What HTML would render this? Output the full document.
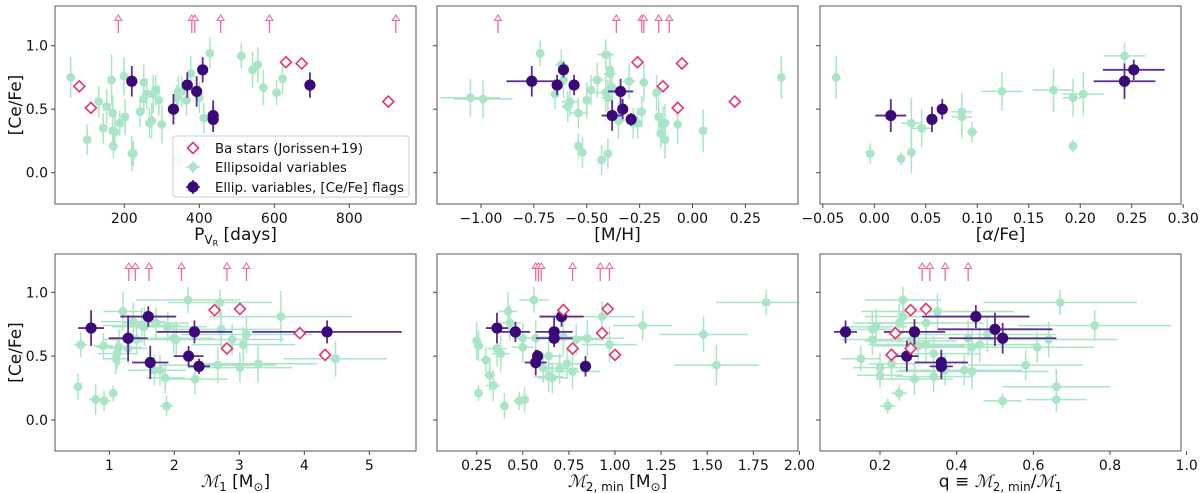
<!DOCTYPE html>
<html><head><meta charset="utf-8">
<style>
html,body{margin:0;padding:0;background:#fff;}
svg{display:block;font-family:"DejaVu Sans","Liberation Sans",sans-serif;}
</style></head>
<body>
<svg id="fig" width="1200" height="493" viewBox="0 0 1200 493" xmlns="http://www.w3.org/2000/svg"></svg>
<script>
// ---------- Panel 1: P_VR ----------
const p1GreenX=[57,101,132,144,153,166,169,169,171,175,188,199,202,220,224,242,252,252,260,267,273,277,284,292,300,340,344,353,366,377,400,412,428,512,542,556,571,606,622,344];
const p1GreenY=[0.75,0.26,0.56,0.35,0.52,0.73,0.33,0.47,0.21,0.32,0.39,0.76,0.44,0.15,0.15,0.48,0.71,0.58,0.62,0.39,0.41,0.62,0.65,0.57,0.38,0.59,0.64,0.64,0.57,0.78,0.59,0.43,0.94,0.92,0.81,0.85,0.67,0.63,0.74,0.11];
const p1GreenYe=[0.16,0.12,0.12,0.12,0.14,0.2,0.12,0.14,0.1,0.15,0.1,0.15,0.14,0.14,0.1,0.12,0.14,0.12,0.12,0.12,0.14,0.15,0.12,0.12,0.15,0.1,0.12,0.12,0.12,0.14,0.12,0.12,0.12,0.1,0.14,0.14,0.14,0.1,0.12,0.1];
const p1DarkX=[220,331,368,393,409,437,437,695];
const p1DarkY=[0.72,0.50,0.69,0.64,0.81,0.45,0.42,0.69];
const p1DarkYe=[0.12,0.12,0.1,0.12,0.1,0.12,0.1,0.1];
const p1BaX=[80,111,631,673,904];
const p1BaY=[0.68,0.51,0.87,0.86,0.56];
const p1ArrowX=[184,380,388,457,587,924];
const p1Ticks=[200,400,600,800];
// ---------- Panel 2: [M/H] ----------
const p2GreenX=[-1.05,-0.99,-0.72,-0.65,-0.62,-0.61,-0.59,-0.58,-0.54,-0.54,-0.52,-0.50,-0.48,-0.45,-0.43,-0.41,-0.41,-0.40,-0.40,-0.39,-0.39,-0.38,-0.35,-0.30,-0.28,-0.26,-0.23,-0.24,-0.17,-0.16,-0.14,-0.13,-0.15,-0.13,-0.07,0.05,0.42];
const p2GreenY=[0.59,0.58,0.94,0.62,0.85,0.73,0.52,0.56,0.47,0.21,0.16,0.57,0.65,0.73,0.10,0.93,0.63,0.59,0.15,0.78,0.81,0.67,0.41,0.72,0.39,0.39,0.71,0.48,0.63,0.44,0.38,0.39,0.31,0.26,0.38,0.33,0.75];
const p2GreenXe=[0.14,0.14,0.02,0.02,0.03,0.02,0.03,0.04,0.04,0.01,0.01,0.02,0.02,0.03,0.02,0.04,0.05,0.03,0.02,0.03,0.02,0.03,0.03,0.03,0.02,0.02,0.02,0.02,0.02,0.02,0.01,0.01,0.01,0.01,0.01,0.01,0.01];
const p2GreenYe=[0.15,0.15,0.1,0.12,0.12,0.14,0.12,0.12,0.12,0.1,0.12,0.14,0.12,0.14,0.12,0.12,0.15,0.14,0.12,0.14,0.14,0.15,0.14,0.14,0.12,0.12,0.15,0.12,0.14,0.15,0.14,0.15,0.12,0.15,0.15,0.17,0.17];
const p2DarkX=[-0.76,-0.64,-0.61,-0.56,-0.38,-0.34,-0.33,-0.29];
const p2DarkY=[0.72,0.69,0.81,0.69,0.45,0.64,0.50,0.42];
const p2DarkXe=[0.12,0.02,0.02,0.01,0.05,0.06,0.01,0.01];
const p2DarkYe=[0.12,0.08,0.06,0.08,0.12,0.1,0.08,0.05];
const p2BaX=[-0.26,-0.05,-0.14,-0.07,0.20];
const p2BaY=[0.87,0.86,0.68,0.51,0.56];
const p2ArrowX=[-0.92,-0.36,-0.24,-0.23,-0.16,-0.11];
const p2Ticks=[-1.0,-0.75,-0.5,-0.25,0,0.25];
// ---------- Panel 3: [alpha/Fe] ----------
const p3GreenX=[-0.037,-0.004,0.026,0.036,0.036,0.046,0.085,0.085,0.095,0.124,0.174,0.193,0.193,0.203,0.243];
const p3GreenY=[0.75,0.15,0.11,0.16,0.39,0.35,0.48,0.44,0.32,0.64,0.65,0.59,0.21,0.62,0.92];
const p3GreenXe=[0,0,0,0,0.01,0.01,0.01,0.01,0.005,0.02,0.02,0.01,0,0.02,0.02];
const p3GreenYe=[0.17,0.08,0.05,0.16,0.2,0.15,0.15,0.17,0.08,0.15,0.17,0.15,0.05,0.17,0.1];
const p3DarkX=[0.016,0.056,0.066,0.243,0.252];
const p3DarkY=[0.45,0.42,0.50,0.72,0.81];
const p3DarkXe=[0.015,0.003,0.003,0.03,0.03];
const p3DarkYe=[0.13,0.1,0.08,0.14,0.08];
const p3Ticks=[-0.05,0,0.05,0.10,0.15,0.20,0.25,0.30];
// ---------- Panel 4: M1 ----------
const p4GreenX=[0.52,0.56,0.79,0.91,0.92,1.06,1.10,1.12,1.15,1.21,1.29,1.37,1.42,1.50,1.54,1.72,1.69,1.78,1.86,1.88,1.90,1.99,2.03,2.21,2.32,2.67,2.70,2.72,2.89,3.01,3.06,3.11,3.29,3.64,4.48];
const p4GreenY=[0.26,0.59,0.16,0.58,0.15,0.21,0.48,0.52,0.57,0.85,0.56,0.77,0.63,0.74,0.73,0.76,0.39,0.39,0.33,0.11,0.73,0.64,0.63,0.94,0.32,0.43,0.92,0.71,0.63,0.41,0.59,0.67,0.44,0.81,0.48];
const p4GreenXe=[0.05,0.1,0.1,0.15,0.1,0.06,0.2,0.3,0.35,0.3,0.3,0.5,0.5,0.6,0.5,0.5,0.4,0.4,0.3,0.1,0.6,0.6,0.7,0.8,0.5,0.9,0.8,0.9,0.8,0.8,0.8,1.0,0.9,1.1,0.8];
const p4GreenYe=[0.1,0.1,0.12,0.1,0.08,0.06,0.12,0.12,0.14,0.15,0.12,0.15,0.12,0.14,0.15,0.12,0.12,0.12,0.12,0.08,0.12,0.12,0.14,0.1,0.12,0.14,0.1,0.14,0.12,0.12,0.14,0.15,0.15,0.2,0.14];
const p4DarkX=[0.72,1.29,1.60,1.63,2.31,2.22,2.38,4.35];
const p4DarkY=[0.72,0.64,0.81,0.45,0.69,0.50,0.42,0.69];
const p4DarkXe=[0.2,0.3,0.43,0.28,0.58,0.23,0.17,1.15];
const p4DarkYe=[0.14,0.18,0.08,0.13,0.09,0.08,0.06,0.09];
const p4BaX=[2.62,3.01,2.81,3.93,4.32];
const p4BaY=[0.86,0.87,0.56,0.68,0.51];
const p4ArrowX=[1.30,1.40,1.61,2.11,2.81,3.11];
const p4Ticks=[1,2,3,4,5];
// ---------- Panel 5: M2,min ----------
const p5GreenX=[0.25,0.26,0.26,0.30,0.32,0.34,0.36,0.38,0.40,0.42,0.43,0.48,0.50,0.50,0.51,0.56,0.57,0.61,0.64,0.64,0.66,0.70,0.72,0.74,0.77,0.79,0.85,0.93,0.97,1.15,1.48,1.55,1.82];
const p5GreenY=[0.62,0.58,0.21,0.47,0.35,0.27,0.56,0.52,0.11,0.85,0.76,0.15,0.64,0.57,0.16,0.94,0.64,0.41,0.50,0.34,0.33,0.40,0.65,0.44,0.38,0.63,0.64,0.81,0.59,0.74,0.67,0.43,0.92];
const p5GreenXe=[0.02,0.03,0.02,0.03,0.03,0.04,0.05,0.05,0.02,0.05,0.06,0.03,0.05,0.06,0.02,0.08,0.08,0.06,0.08,0.08,0.08,0.1,0.15,0.1,0.15,0.15,0.2,0.18,0.15,0.16,0.24,0.23,0.27];
const p5GreenYe=[0.15,0.12,0.06,0.1,0.12,0.12,0.14,0.14,0.1,0.15,0.14,0.07,0.12,0.12,0.1,0.1,0.14,0.12,0.14,0.12,0.12,0.12,0.14,0.12,0.14,0.12,0.14,0.12,0.14,0.12,0.14,0.16,0.1];
const p5DarkX=[0.36,0.46,0.71,0.67,0.67,0.58,0.57,0.84];
const p5DarkY=[0.72,0.69,0.81,0.69,0.64,0.50,0.45,0.42];
const p5DarkXe=[0.06,0.08,0.12,0.1,0.1,0.02,0.06,0.03];
const p5DarkYe=[0.12,0.08,0.08,0.12,0.06,0.05,0.1,0.08];
const p5BaX=[0.72,0.96,0.93,0.77,1.00];
const p5BaY=[0.86,0.87,0.68,0.56,0.51];
const p5ArrowX=[0.57,0.585,0.60,0.77,0.92,0.97];
const p5Ticks=[0.25,0.5,0.75,1.0,1.25,1.5,1.75,2.0];
// ---------- Panel 6: q ----------
const p6GreenX=[0.15,0.18,0.18,0.19,0.20,0.20,0.22,0.23,0.25,0.26,0.26,0.25,0.28,0.29,0.30,0.32,0.32,0.34,0.34,0.35,0.37,0.42,0.44,0.44,0.43,0.46,0.48,0.52,0.58,0.61,0.64,0.66,0.66,0.67,0.76];
const p6GreenY=[0.48,0.71,0.63,0.73,0.35,0.41,0.11,0.44,0.21,0.94,0.81,0.76,0.62,0.32,0.58,0.76,0.59,0.52,0.34,0.85,0.39,0.39,0.38,0.57,0.64,0.59,0.67,0.15,0.43,0.57,0.63,0.26,0.16,0.92,0.74];
const p6GreenXe=[0.05,0.06,0.08,0.08,0.06,0.07,0.02,0.06,0.02,0.1,0.1,0.12,0.12,0.1,0.12,0.15,0.15,0.12,0.1,0.2,0.12,0.15,0.2,0.15,0.2,0.15,0.18,0.05,0.15,0.15,0.18,0.14,0.08,0.2,0.2];
const p6GreenYe=[0.1,0.15,0.12,0.14,0.1,0.12,0.06,0.12,0.06,0.1,0.14,0.15,0.12,0.12,0.14,0.15,0.14,0.14,0.12,0.14,0.12,0.12,0.14,0.14,0.14,0.14,0.14,0.06,0.12,0.12,0.14,0.14,0.1,0.1,0.12];
const p6DarkX=[0.11,0.29,0.45,0.50,0.52,0.27,0.36,0.36];
const p6DarkY=[0.69,0.69,0.81,0.71,0.64,0.50,0.45,0.42];
const p6DarkXe=[0.03,0.08,0.14,0.15,0.14,0.03,0.07,0.03];
const p6DarkYe=[0.09,0.1,0.09,0.13,0.12,0.12,0.1,0.1];
const p6BaX=[0.28,0.32,0.24,0.28,0.23];
const p6BaY=[0.86,0.87,0.68,0.56,0.51];
const p6ArrowX=[0.31,0.33,0.37,0.43];
const p6Ticks=[0.2,0.4,0.6,0.8,1.0];
const yTicks=[0,0.5,1.0];

const NS='http://www.w3.org/2000/svg';
const svg=document.getElementById('fig');
function mk(tag,attrs,parent){const e=document.createElementNS(NS,tag);for(const k in attrs)e.setAttribute(k,attrs[k]);(parent||svg).appendChild(e);return e;}
function lin(d0,p0,d1,p1){return v=>p0+(v-d0)*(p1-p0)/(d1-d0);}

const GREEN='#a9e5c6', DARK='#3a0877', DARKERR='#5b2c99', PINK='#e8336f', ARROW='#f0689a';

const panels=[
 {id:'pvr',L:55,R:416,T:6,B:204,x:lin(200,124.3,800,349.3),y:lin(0,172.7,1,45.7),ticks:p1Ticks,fmt:v=>String(v),
  gx:p1GreenX,gy:p1GreenY,gxe:null,gye:p1GreenYe,dx:p1DarkX,dy:p1DarkY,dxe:null,dye:p1DarkYe,bx:p1BaX,by:p1BaY,ax:p1ArrowX,ylab:true,
  xl:'pvr'},
 {id:'mh',L:437,R:798,T:6,B:204,x:lin(-1,481,0,692.5),y:lin(0,172.7,1,45.7),ticks:p2Ticks,fmt:v=>(v<0?'\u2212':'')+Math.abs(v).toFixed(2),
  gx:p2GreenX,gy:p2GreenY,gxe:p2GreenXe,gye:p2GreenYe,dx:p2DarkX,dy:p2DarkY,dxe:p2DarkXe,dye:p2DarkYe,bx:p2BaX,by:p2BaY,ax:p2ArrowX,xl:'mh'},
 {id:'alpha',L:820,R:1181,T:6,B:204,x:lin(0,874.3,0.25,1131.7),y:lin(0,172.7,1,45.7),ticks:p3Ticks,fmt:v=>(v<0?'\u2212':'')+Math.abs(v).toFixed(2),
  gx:p3GreenX,gy:p3GreenY,gxe:p3GreenXe,gye:p3GreenYe,dx:p3DarkX,dy:p3DarkY,dxe:p3DarkXe,dye:p3DarkYe,bx:[],by:[],ax:[],xl:'alpha'},
 {id:'m1',L:55,R:416,T:254,B:451,x:lin(1,109.3,5,369.3),y:lin(0,420,1,292.3),ticks:p4Ticks,fmt:v=>String(v),
  gx:p4GreenX,gy:p4GreenY,gxe:p4GreenXe,gye:p4GreenYe,dx:p4DarkX,dy:p4DarkY,dxe:p4DarkXe,dye:p4DarkYe,bx:p4BaX,by:p4BaY,ax:p4ArrowX,ylab:true,xl:'m1'},
 {id:'m2',L:437,R:798,T:254,B:451,x:lin(0.25,476.7,1.75,753.3),y:lin(0,420,1,292.3),ticks:p5Ticks,fmt:v=>v.toFixed(2),
  gx:p5GreenX,gy:p5GreenY,gxe:p5GreenXe,gye:p5GreenYe,dx:p5DarkX,dy:p5DarkY,dxe:p5DarkXe,dye:p5DarkYe,bx:p5BaX,by:p5BaY,ax:p5ArrowX,xl:'m2'},
 {id:'q',L:820,R:1181,T:254,B:451,x:lin(0.2,880,0.8,1110),y:lin(0,420,1,292.3),ticks:p6Ticks,fmt:v=>v.toFixed(1),
  gx:p6GreenX,gy:p6GreenY,gxe:p6GreenXe,gye:p6GreenYe,dx:p6DarkX,dy:p6DarkY,dxe:p6DarkXe,dye:p6DarkYe,bx:p6BaX,by:p6BaY,ax:p6ArrowX,xl:'q'}
];

panels.forEach(p=>{
  const g=mk('g',{});
  
  
  const cid='clip-'+p.id;
  const cp=mk('clipPath',{id:cid},g);
  mk('rect',{x:p.L,y:p.T,width:p.R-p.L,height:p.B-p.T},cp);
  const plot=mk('g',{'clip-path':'url(#'+cid+')'},g);
  for(let i=0;i<p.gx.length;i++){
    const cx=p.x(p.gx[i]),cy=p.y(p.gy[i]);
    const ye=p.gye[i];
    const l=mk('line',{x1:cx,x2:cx,y1:p.y(p.gy[i]-ye),y2:p.y(p.gy[i]+ye),stroke:GREEN,'stroke-width':1.5},plot);
    
    
    if(p.gxe&&p.gxe[i]>0){
      const h=mk('line',{y1:cy,y2:cy,x1:p.x(p.gx[i]-p.gxe[i]),x2:p.x(p.gx[i]+p.gxe[i]),stroke:GREEN,'stroke-width':1.5},plot);
      
      
    }
  }
  for(let i=0;i<p.gx.length;i++){
    const c=mk('circle',{cx:p.x(p.gx[i]),cy:p.y(p.gy[i]),r:4.4,fill:GREEN},plot);
    
    
  }
  for(let i=0;i<p.dx.length;i++){
    const cx=p.x(p.dx[i]),cy=p.y(p.dy[i]);
    const l=mk('line',{x1:cx,x2:cx,y1:p.y(p.dy[i]-p.dye[i]),y2:p.y(p.dy[i]+p.dye[i]),stroke:DARKERR,'stroke-width':1.8},plot);
    
    
    if(p.dxe&&p.dxe[i]>0){
      const h=mk('line',{y1:cy,y2:cy,x1:p.x(p.dx[i]-p.dxe[i]),x2:p.x(p.dx[i]+p.dxe[i]),stroke:DARKERR,'stroke-width':1.8},plot);
      
      
    }
  }
  for(let i=0;i<p.dx.length;i++){
    const c=mk('circle',{cx:p.x(p.dx[i]),cy:p.y(p.dy[i]),r:5.6,fill:DARK},plot);
    
    
  }
  for(let i=0;i<p.bx.length;i++){
    const cx=p.x(p.bx[i]),cy=p.y(p.by[i]),s=5.5;
    const d=mk('polygon',{points:`${cx},${cy-s} ${cx+s},${cy} ${cx},${cy+s} ${cx-s},${cy}`,fill:'#fff',stroke:PINK,'stroke-width':1.6},plot);
    
    
  }
  const aTop=p.T+9, aBot=p.T+27;
  for(let i=0;i<p.ax.length;i++){
    const cx=p.x(p.ax[i]);
    const a=mk('g',{},plot);
    
    
    mk('line',{x1:cx,x2:cx,y1:aTop+5,y2:aBot,stroke:ARROW,'stroke-width':1.3},a);
    mk('polygon',{points:`${cx},${aTop} ${cx+3.5},${aTop+5.5} ${cx-3.5},${aTop+5.5}`,fill:'#fff',stroke:ARROW,'stroke-width':1.1},a);
  }
  const fr=mk('rect',{x:p.L,y:p.T,width:p.R-p.L,height:p.B-p.T,fill:'none',stroke:'#555','stroke-width':1},g);
  
  
  p.ticks.forEach(t=>{
    const px=p.x(t);
    mk('line',{x1:px,x2:px,y1:p.B,y2:p.B+4,stroke:'#444','stroke-width':1},g);
    const tx=mk('text',{x:px,y:p.B+19,'text-anchor':'middle','font-size':14,fill:'#111'},g);
    tx.textContent=p.fmt(t);
    
    
  });
  yTicks.forEach(t=>{
    const py=p.y(t);
    mk('line',{x1:p.L-4,x2:p.L,y1:py,y2:py,stroke:'#444','stroke-width':1},g);
    if(p.ylab){
      const tx=mk('text',{x:p.L-7,y:py+5,'text-anchor':'end','font-size':14,fill:'#111'},g);
      tx.textContent=t.toFixed(1);
      
      
    }
  });
  if(p.ylab){
    const cy=(p.T+p.B)/2;
    const yl=mk('text',{x:21,y:cy,'text-anchor':'middle','font-size':17,fill:'#111',transform:`rotate(-90 21 ${cy})`},g);
    yl.textContent='[Ce/Fe]';
    
    
  }
  const cx=(p.L+p.R)/2, ty=p.B+36;
  const xl=mk('text',{x:cx,y:ty,'text-anchor':'middle','font-size':17,fill:'#111'},g);
  
  
  const script='font-family:"DejaVu Serif",serif;font-style:italic';
  if(p.xl==='pvr') xl.innerHTML='P<tspan font-size="12" dy="4">V</tspan><tspan font-size="8" dy="2">R</tspan><tspan dy="-6"> [days]</tspan>';
  if(p.xl==='mh') xl.textContent='[M/H]';
  if(p.xl==='alpha') xl.innerHTML='[<tspan font-style="italic">α</tspan>/Fe]';
  if(p.xl==='m1') xl.innerHTML='<tspan style=\''+script+'\'>ℳ</tspan><tspan font-size="12" dy="4">1</tspan><tspan dy="-4"> [M</tspan><tspan font-size="12" dy="4">⊙</tspan><tspan dy="-4">]</tspan>';
  if(p.xl==='m2') xl.innerHTML='<tspan style=\''+script+'\'>ℳ</tspan><tspan font-size="12" dy="4">2, min</tspan><tspan dy="-4"> [M</tspan><tspan font-size="12" dy="4">⊙</tspan><tspan dy="-4">]</tspan>';
  if(p.xl==='q') xl.innerHTML='q  ≡  <tspan style=\''+script+'\'>ℳ</tspan><tspan font-size="12" dy="4">2, min</tspan><tspan dy="-4">/</tspan><tspan style=\''+script+'\'>ℳ</tspan><tspan font-size="12" dy="4">1</tspan>';
});

const lg=mk('g',{});


mk('rect',{x:173,y:136,width:236,height:61,rx:3,fill:'#fff','fill-opacity':0.85,stroke:'#ccc','stroke-width':1},lg);
const entries=[['ba','Ba stars (Jorissen+19)',148,148],['green','Ellipsoidal variables',167,132],['dark','Ellip. variables, [Ce/Fe] flags',187,189]];
entries.forEach(e=>{
  const eg=mk('g',{},lg);
  
  
  const mx=193,my=e[2];
  if(e[0]==='ba') mk('polygon',{points:`${mx},${my-5.5} ${mx+5.5},${my} ${mx},${my+5.5} ${mx-5.5},${my}`,fill:'#fff',stroke:PINK,'stroke-width':1.6},eg);
  if(e[0]==='green'){mk('line',{x1:mx-7,x2:mx+7,y1:my,y2:my,stroke:GREEN,'stroke-width':1.5},eg);mk('line',{x1:mx,x2:mx,y1:my-6,y2:my+6,stroke:GREEN,'stroke-width':1.5},eg);mk('circle',{cx:mx,cy:my,r:4.4,fill:GREEN},eg);}
  if(e[0]==='dark'){mk('line',{x1:mx-7,x2:mx+7,y1:my,y2:my,stroke:DARKERR,'stroke-width':1.8},eg);mk('line',{x1:mx,x2:mx,y1:my-7,y2:my+7,stroke:DARKERR,'stroke-width':1.8},eg);mk('circle',{cx:mx,cy:my,r:5.6,fill:DARK},eg);}
  const t=mk('text',{x:215,y:my+5,'font-size':13,fill:'#111',textLength:e[3],lengthAdjust:'spacingAndGlyphs'},eg);
  t.textContent=e[1];
});
</script>
</body></html>
